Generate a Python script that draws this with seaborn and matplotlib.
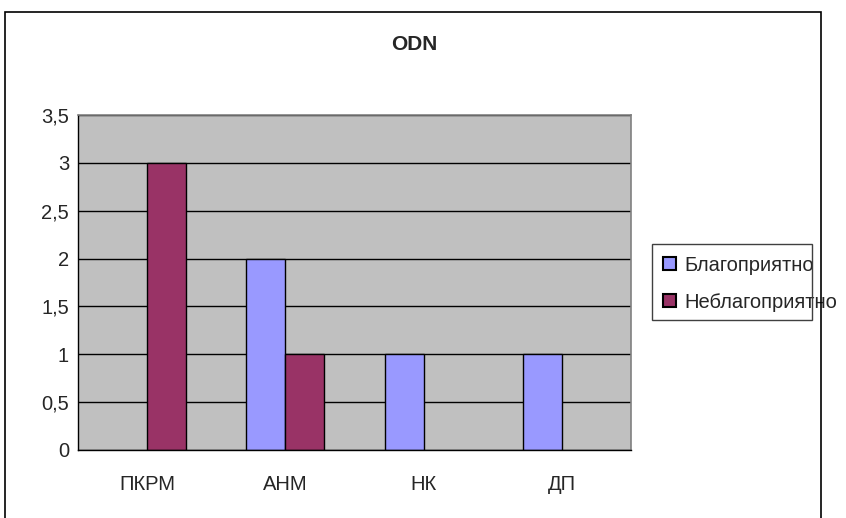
import matplotlib
matplotlib.use('Agg')
import matplotlib.pyplot as plt
from matplotlib.patches import Rectangle, Patch
from matplotlib.ticker import FixedLocator, FuncFormatter
import seaborn as sns
import pandas as pd

categories = ['ПКРМ', 'АНМ', 'НК', 'ДП']
series = ['Благоприятно', 'Неблагоприятно']
favorable = [None, 2, 1, 1]
unfavorable = [3, 1, None, None]
colors = ['#9999FF', '#993366']

rows = []
for cat, fav, unf in zip(categories, favorable, unfavorable):
    if fav is not None:
        rows.append({'cat': cat, 'series': series[0], 'value': fav})
    if unf is not None:
        rows.append({'cat': cat, 'series': series[1], 'value': unf})
df = pd.DataFrame(rows)

sns.set_style('white')
plt.rcParams['font.family'] = ['Liberation Sans', 'DejaVu Sans']

fig = plt.figure(figsize=(8.46, 5.18), dpi=100)
ax = fig.add_axes([0.0922, 0.1313, 0.6537, 0.6467])

sns.barplot(data=df, x='cat', y='value', hue='series', order=categories,
            hue_order=series, palette=colors, width=0.565, saturation=1,
            edgecolor='black', linewidth=1, ax=ax, legend=False)

ax.set_facecolor('#C0C0C0')
ax.set_ylim(0, 3.5)
ax.set_xlim(-0.5, len(categories) - 0.5)
yt = [0, 0.5, 1, 1.5, 2, 2.5, 3, 3.5]
ax.yaxis.set_major_locator(FixedLocator(yt))
ax.yaxis.set_major_formatter(FuncFormatter(lambda v, p: f'{v:g}'.replace('.', ',')))
ax.grid(axis='y', color='black', linewidth=1)
ax.set_axisbelow(True)
ax.set_xlabel('')
ax.set_ylabel('')

ax.tick_params(axis='y', which='major', direction='out', length=4.5, width=1,
               color='black', labelsize=14.5, pad=2)
ax.tick_params(axis='x', which='major', length=0, labelsize=14.5, pad=18)
ax.xaxis.set_minor_locator(FixedLocator([i - 0.5 for i in range(len(categories) + 1)]))
ax.tick_params(axis='x', which='minor', direction='out', length=4.5, width=1, color='black')

for side in ['top', 'right']:
    ax.spines[side].set_color('#808080')
    ax.spines[side].set_linewidth(1.2)
for side in ['left', 'bottom']:
    ax.spines[side].set_color('black')
    ax.spines[side].set_linewidth(1)

fig.text(0.49, 0.915, 'ODN', ha='center', va='center', fontsize=15, fontweight='bold')

# legend: Excel-style box narrower than its text
handles = [Patch(facecolor=c, edgecolor='black', linewidth=1.5) for c in colors]
leg = fig.legend(handles, series, loc='upper left', bbox_to_anchor=(0.777, 0.518),
                 borderaxespad=0, frameon=False, fontsize=14.5,
                 handlelength=0.65, handleheight=0.65, handletextpad=0.4,
                 labelspacing=0.9, borderpad=0.3)
fig.patches.append(Rectangle((652 / 846, 1 - 320 / 518), 160 / 846, 76 / 518,
                             transform=fig.transFigure, fill=False,
                             edgecolor='#404040', linewidth=1, zorder=9))

fig.patches.append(Rectangle((0.006, -0.1), 0.964, 1.077, transform=fig.transFigure,
                             fill=False, edgecolor='black', linewidth=1.2, zorder=10))

fig.savefig('out.png', dpi=100)
